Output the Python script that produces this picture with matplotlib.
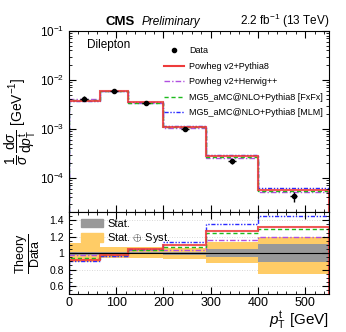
import numpy as np
import matplotlib
matplotlib.use('Agg')
import matplotlib.pyplot as plt
from matplotlib.lines import Line2D
from matplotlib.patches import Patch
from matplotlib.ticker import MultipleLocator, LogLocator, NullFormatter

plt.rcParams.update({
    'font.family': ['Liberation Sans', 'DejaVu Sans'],
    'mathtext.fontset': 'custom',
    'mathtext.rm': 'Liberation Sans',
    'mathtext.it': 'Liberation Sans:italic',
    'mathtext.bf': 'Liberation Sans:bold',
    'font.size': 7,
})

# bins in top pT [GeV]
bin_edges = [0, 65, 125, 200, 290, 400, 550]

# normalised data cross section [GeV^-1]
data_xsec = [4.1e-3, 6.0e-3, 3.3e-3, 1.0e-3, 2.2e-4, 4.2e-5]

# relative uncertainties on data (up / down)
stat_up = [0.02, 0.015, 0.015, 0.02, 0.045, 0.11]
stat_dn = [0.02, 0.015, 0.015, 0.025, 0.045, 0.11]
tot_up = [0.12, 0.07, 0.07, 0.06, 0.13, 0.20]
tot_dn = [0.11, 0.06, 0.06, 0.07, 0.12, 0.25]

# theory / data ratios
ratio_pow_py8 = [0.92, 0.98, 1.05, 1.10, 1.27, 1.32]
ratio_pow_hw = [0.98, 0.97, 1.04, 1.04, 1.16, 1.20]
ratio_fxfx = [0.94, 0.98, 1.04, 1.08, 1.24, 1.29]
ratio_mlm = [0.91, 0.97, 1.05, 1.14, 1.36, 1.45]

model_names = ['Powheg v2+Pythia8', 'Powheg v2+Herwig++',
               'MG5_aMC@NLO+Pythia8 [FxFx]', 'MG5_aMC@NLO+Pythia8 [MLM]']

edges = np.array(bin_edges, dtype=float)
centers = 0.5 * (edges[1:] + edges[:-1])
data = np.array(data_xsec)
ratios = [np.array(r) for r in (ratio_pow_py8, ratio_pow_hw, ratio_fxfx, ratio_mlm)]

styles = [
    dict(color='#ee3b3b', lw=1.5, ls='-', alpha=0.85),
    dict(color='#b04fe0', lw=1.0, ls=(0, (4, 1.5, 1, 1.5))),
    dict(color='#1dbb1d', lw=1.0, ls=(0, (3, 2))),
    dict(color='#2a2aff', lw=1.0, ls=(0, (3, 1.2, 1, 1.2, 1, 1.2))),
]
draw_order = [1, 3, 2, 0]

fig = plt.figure(figsize=(3.46, 3.32), dpi=100)
ax = fig.add_axes([0.199, 0.361, 0.752, 0.546])
rax = fig.add_axes([0.199, 0.114, 0.752, 0.247], sharex=ax)

# --- upper panel ---
for i in draw_order:
    ax.stairs(data * ratios[i], edges, **styles[i])

yerr = np.vstack([data * np.array(tot_dn), data * np.array(tot_up)])
ax.errorbar(centers, data, yerr=yerr, xerr=8, fmt='o', color='black',
            ms=3, elinewidth=1.0, capsize=0, zorder=10)

ax.set_yscale('log')
ax.set_ylim(2e-5, 0.1)
ax.set_xlim(0, 550)
ax.yaxis.set_major_locator(LogLocator(base=10, numticks=10))
ax.yaxis.set_minor_locator(LogLocator(base=10, subs=np.arange(2, 10), numticks=10))
ax.yaxis.set_minor_formatter(NullFormatter())
ax.set_ylabel(r'$\dfrac{1}{\sigma}\,\dfrac{\mathrm{d}\sigma}{\mathrm{d}p_{\mathrm{T}}^{\mathrm{t}}}$ [GeV$^{-1}$]',
              fontsize=10, labelpad=1)
plt.setp(ax.get_xticklabels(), visible=False)

ax.text(0.07, 0.92, 'Dilepton', transform=ax.transAxes, fontsize=8.5, va='center')

handles = [Line2D([0], [0], marker='o', color='black', ls='none', ms=3)]
for i in range(4):
    s = dict(styles[i])
    s.pop('alpha', None)
    handles.append(Line2D([0], [0], **s))
leg = ax.legend(handles, ['Data'] + model_names, loc='upper right',
                bbox_to_anchor=(1.0, 0.95), frameon=False, fontsize=6.5,
                handlelength=2.2, labelspacing=0.72, borderaxespad=0.3,
                handletextpad=0.5)

fig.text(0.306, 0.925, 'CMS', fontsize=9.5, fontweight='bold', va='baseline')
fig.text(0.41, 0.925, 'Preliminary', fontsize=8.5, style='italic', va='baseline')
fig.text(0.951, 0.925, r'2.2 fb$^{-1}$ (13 TeV)', fontsize=8.5, ha='right', va='baseline')

# --- ratio panel ---
ones = np.ones_like(data)
rax.stairs(ones + np.array(tot_up), edges, baseline=ones - np.array(tot_dn),
           fill=True, color='#ffcc66', lw=0)
rax.stairs(ones + np.array(stat_up), edges, baseline=ones - np.array(stat_dn),
           fill=True, color='#999999', lw=0)
for y in (0.6, 0.8, 1.2, 1.4):
    rax.axhline(y, color='#cccccc', lw=0.6, ls=(0, (1, 2)), zorder=0.5)
rax.axhline(1.0, color='black', lw=0.8)
for i in draw_order:
    rax.stairs(ratios[i], edges, **styles[i])

rax.set_ylim(0.5, 1.5)
rax.yaxis.set_minor_locator(MultipleLocator(0.05))
rax.set_yticks([0.6, 0.8, 1.0, 1.2, 1.4])
rax.set_yticklabels(['0.6', '0.8', '1', '1.2', '1.4'])
rax.set_ylabel(r'$\dfrac{\mathrm{Theory}}{\mathrm{Data}}$', fontsize=9, labelpad=5)
rax.set_xlabel(r'$p_{\mathrm{T}}^{\mathrm{t}}$ [GeV]', fontsize=11, loc='right', labelpad=0)

band_handles = [Patch(color='#999999'), Patch(color='#ffcc66')]
rax.legend(band_handles, ['Stat.', r'Stat. $\oplus$ Syst.'], loc='upper left',
           bbox_to_anchor=(0.02, 1.0), frameon=False, fontsize=8,
           handlelength=2.0, handleheight=0.8, labelspacing=0.2,
           borderaxespad=0.2, handletextpad=0.4)

for a in (ax, rax):
    a.xaxis.set_major_locator(MultipleLocator(100))
    a.xaxis.set_minor_locator(MultipleLocator(20))
    a.tick_params(which='both', direction='in', top=True, right=True, labelsize=8.5)
    a.tick_params(which='major', length=5, width=0.8)
    a.tick_params(which='minor', length=2.5, width=0.6)
    for sp in a.spines.values():
        sp.set_linewidth(0.8)
rax.tick_params(axis='y', labelsize=7.5)
rax.tick_params(axis='x', pad=2, labelsize=9)

fig.savefig('out.png', dpi=100, facecolor='white')
